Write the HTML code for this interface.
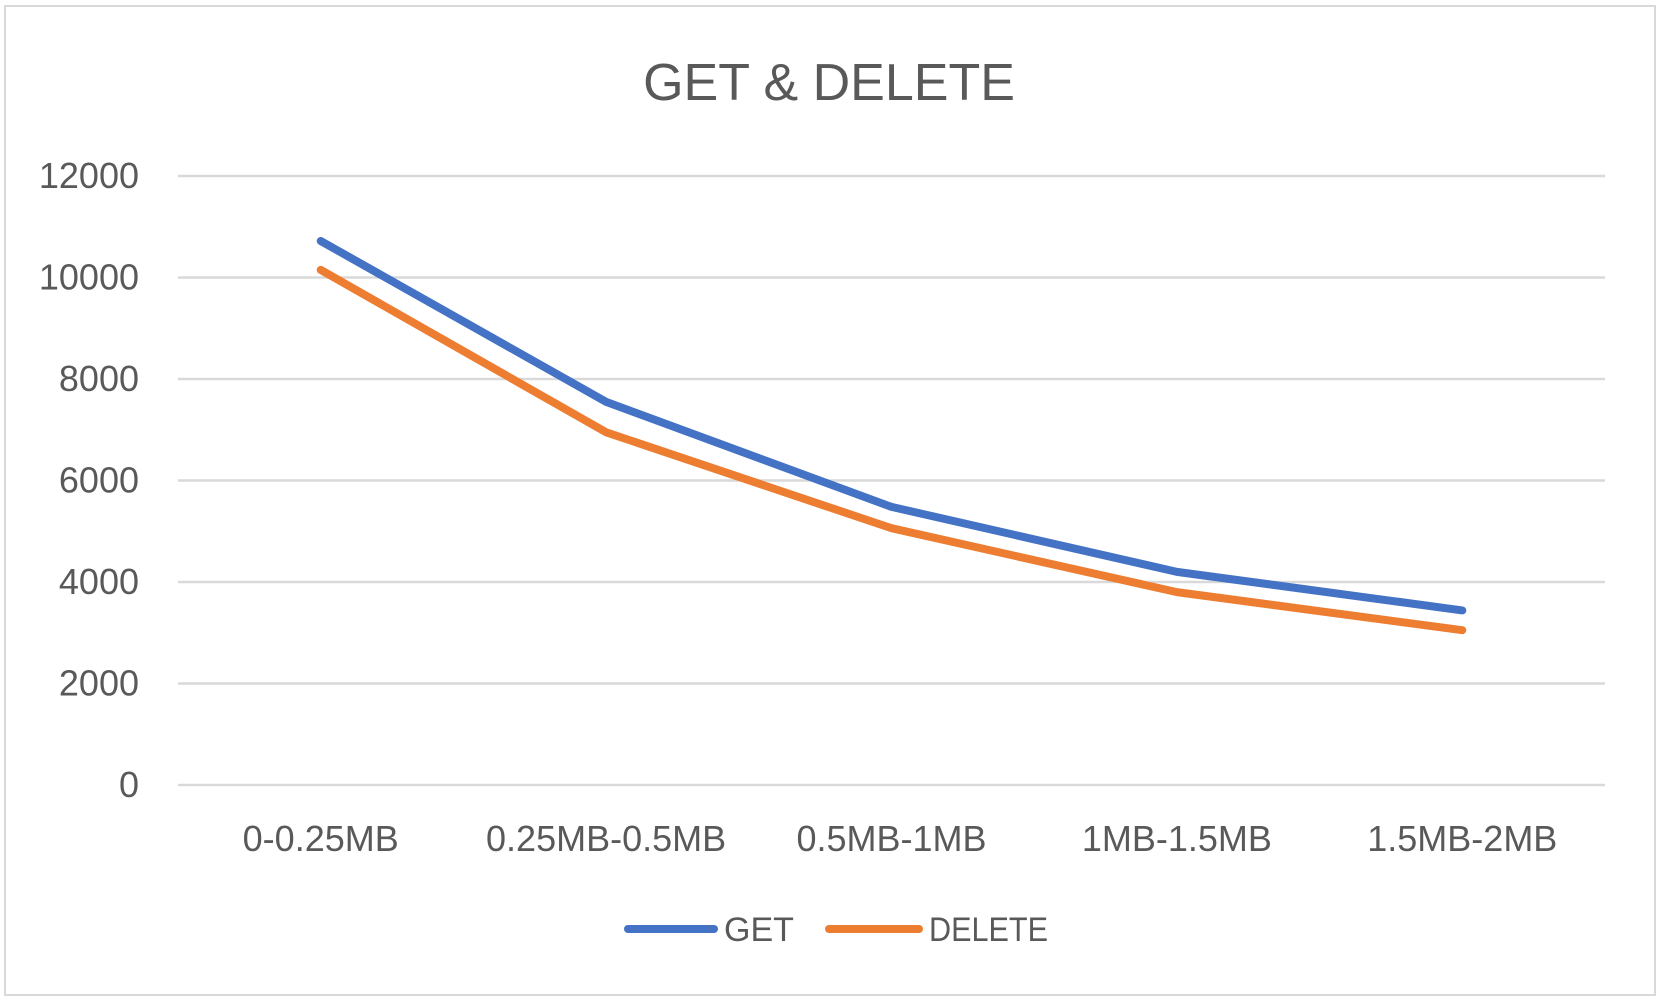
<!DOCTYPE html>
<html><head><meta charset="utf-8"><style>
html,body{margin:0;padding:0;background:#fff;}
svg{display:block;font-family:"Liberation Sans",sans-serif;}
</style></head><body>
<svg id="chart" width="1663" height="1003" viewBox="0 0 1663 1003">
<rect x="5" y="6" width="1650" height="989" fill="#fff" stroke="#d9d9d9" stroke-width="2"/>
<text x="829" y="100" text-anchor="middle" font-size="52" fill="#595959">GET &amp; DELETE</text>
<g id="grid"></g><g id="yticks"></g><g id="xticks"></g><g id="series"></g>
<g>
<line x1="628" y1="929" x2="714" y2="929" stroke="#4472c4" stroke-width="8" stroke-linecap="round"/>
<text x="724" y="941" font-size="34" fill="#595959">GET</text>
<line x1="829" y1="929" x2="919" y2="929" stroke="#ed7d31" stroke-width="8" stroke-linecap="round"/>
<text x="929" y="941" font-size="34" fill="#595959" textLength="119" lengthAdjust="spacingAndGlyphs">DELETE</text>
</g>
</svg>
<script>
const categories = ["0-0.25MB","0.25MB-0.5MB","0.5MB-1MB","1MB-1.5MB","1.5MB-2MB"];
const getValues = [10720, 7550, 5480, 4200, 3440];
const deleteValues = [10150, 6950, 5060, 3800, 3050];
const yTicks = [0, 2000, 4000, 6000, 8000, 10000, 12000];
const NS = "http://www.w3.org/2000/svg";
const L = 178, R = 1605, T = 176, B = 785, YMAX = 12000;
const y = v => B - v / YMAX * (B - T);
const x = i => L + (i + 0.5) * (R - L) / categories.length;
function mk(tag, attrs, parent){const e=document.createElementNS(NS,tag);for(const k in attrs)e.setAttribute(k,attrs[k]);parent.appendChild(e);return e;}
const grid=document.getElementById('grid'), yt=document.getElementById('yticks'), xt=document.getElementById('xticks'), ser=document.getElementById('series');
yTicks.forEach(v=>{
  const g=mk('line',{x1:L,x2:R,y1:y(v),y2:y(v),stroke:'#d9d9d9','stroke-width':2.5},grid);
  
  
  const t=mk('text',{x:139,y:y(v)+12,'text-anchor':'end','font-size':36,fill:'#595959'},yt);
  t.textContent=v;
  
  
});
categories.forEach((c,i)=>{
  const t=mk('text',{x:x(i),y:851,'text-anchor':'middle','font-size':36,fill:'#595959'},xt);
  t.textContent=c;
  
  
});
function line(vals,color,name){
  const p=mk('polyline',{points:vals.map((v,i)=>x(i)+','+y(v)).join(' '),fill:'none',stroke:color,'stroke-width':8,'stroke-linecap':'round','stroke-linejoin':'round'},ser);
  
  
}
line(getValues,'#4472c4','get-line');
line(deleteValues,'#ed7d31','delete-line');
</script>
</body></html>
